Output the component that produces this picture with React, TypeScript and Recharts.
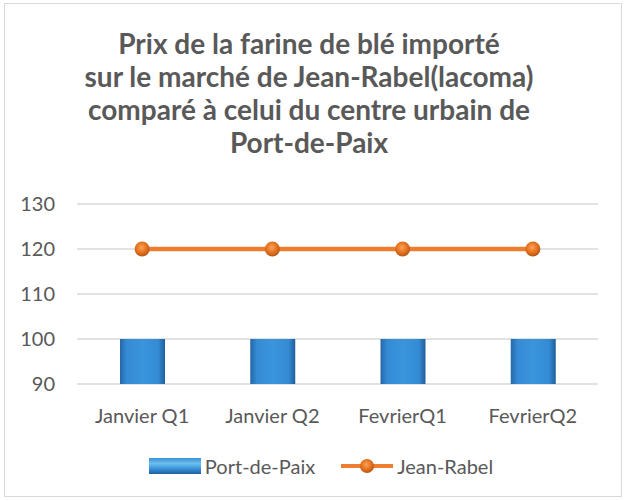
import { ComposedChart, Bar, Line, XAxis, YAxis, CartesianGrid, Legend } from "recharts";

const categories = ["Janvier Q1", "Janvier Q2", "FevrierQ1", "FevrierQ2"];
const portDePaix = [100, 100, 100, 100];
const jeanRabel = [120, 120, 120, 120];
const yTicks = [90, 100, 110, 120, 130];
const titleLines = [
  "Prix de la farine de blé importé",
  "sur le marché de Jean-Rabel(lacoma)",
  "comparé à celui du centre urbain de",
  "Port-de-Paix",
];

const data = categories.map((name, i) => ({
  name,
  portDePaix: portDePaix[i],
  jeanRabel: jeanRabel[i],
}));

const FONT = "Lato, 'Open Sans', sans-serif";
const TEXT = "#595959";

function OrangeDot(props: any) {
  const { cx, cy } = props;
  if (cx == null || cy == null) return null;
  return <circle cx={cx} cy={cy} r={7.5} fill="url(#dotGrad)" />;
}

function LegendBox({ payload }: any) {
  // bars first, like the original
  const items = [...(payload || [])].sort(
    (a: any, b: any) => (a.type === "rect" ? 0 : 1) - (b.type === "rect" ? 0 : 1)
  );
  return (
    <div
      style={{
        height: 30,
        display: "flex",
        justifyContent: "center",
        alignItems: "center",
        gap: 26,
        paddingLeft: 40,
        fontFamily: FONT,
        fontSize: 20,
        color: TEXT,
      }}
    >
      {items.map((p: any) => (
        <div key={p.value} style={{ display: "flex", alignItems: "center", gap: 4 }}>
          {p.type === "rect" ? (
            <svg width={52} height={16}>
              <rect x={0} y={0} width={52} height={16} fill="url(#legendBar)" />
            </svg>
          ) : (
            <svg width={52} height={16}>
              <line x1={0} y1={8} x2={52} y2={8} stroke="#ed7d31" strokeWidth={4} />
              <circle cx={26} cy={8} r={7} fill="url(#dotGrad)" />
            </svg>
          )}
          <span>{p.value}</span>
        </div>
      ))}
    </div>
  );
}

export default function App() {
  return (
    <div style={{ position: "absolute", left: 0, top: 0, width: 625, height: 501, background: "#fff" }}>
      <div
        style={{
          position: "absolute",
          left: 4,
          top: 3,
          width: 616,
          height: 492,
          border: "1px solid #d9d9d9",
        }}
      />
      <div
        style={{
          position: "absolute",
          left: 0,
          top: 27,
          width: 618,
          textAlign: "center",
          fontFamily: FONT,
          fontWeight: 700,
          fontSize: 28,
          lineHeight: "33px",
          color: TEXT,
        }}
      >
        {titleLines.map((t) => (
          <div key={t}>{t}</div>
        ))}
      </div>
      <ComposedChart
        width={625}
        height={501}
        data={data}
        margin={{ top: 204, right: 27, left: 4, bottom: 20 }}
        style={{ position: "absolute", left: 0, top: 0 }}
      >
        <defs>
          <linearGradient id="barGrad" x1="0" y1="0" x2="1" y2="0">
            <stop offset="0%" stopColor="#2468a8" />
            <stop offset="15%" stopColor="#348bd4" />
            <stop offset="50%" stopColor="#3a95dd" />
            <stop offset="85%" stopColor="#348bd4" />
            <stop offset="100%" stopColor="#1f5f9c" />
          </linearGradient>
          <linearGradient id="legendBar" x1="0" y1="0" x2="0" y2="1">
            <stop offset="0%" stopColor="#3d8fd3" />
            <stop offset="35%" stopColor="#6dc0f0" />
            <stop offset="65%" stopColor="#3a95dd" />
            <stop offset="100%" stopColor="#1f5f9c" />
          </linearGradient>
          <radialGradient id="dotGrad" cx="45%" cy="40%" r="60%">
            <stop offset="0%" stopColor="#f9a45a" />
            <stop offset="55%" stopColor="#e8741f" />
            <stop offset="100%" stopColor="#b65715" />
          </radialGradient>
        </defs>
        <CartesianGrid vertical={false} stroke="#d9d9d9" strokeWidth={1.5} />
        <XAxis
          dataKey="name"
          axisLine={false}
          tickLine={false}
          tickSize={0}
          tickMargin={25}
          height={67}
          tick={{ fontSize: 20, fill: TEXT, fontFamily: FONT }}
        />
        <YAxis
          domain={[90, 130]}
          ticks={yTicks}
          axisLine={false}
          tickLine={false}
          tickSize={0}
          tickMargin={22}
          width={73}
          tick={{ fontSize: 20, fill: TEXT, fontFamily: FONT }}
        />
        <Legend verticalAlign="bottom" align="center" content={<LegendBox />} />
        <Bar
          dataKey="portDePaix"
          name="Port-de-Paix"
          fill="url(#barGrad)"
          barSize={45}
          legendType="rect"
          isAnimationActive={false}
        />
        <Line
          dataKey="jeanRabel"
          name="Jean-Rabel"
          stroke="#ed7d31"
          strokeWidth={4.5}
          dot={<OrangeDot />}
          activeDot={false}
          legendType="line"
          isAnimationActive={false}
        />
      </ComposedChart>
    </div>
  );
}
